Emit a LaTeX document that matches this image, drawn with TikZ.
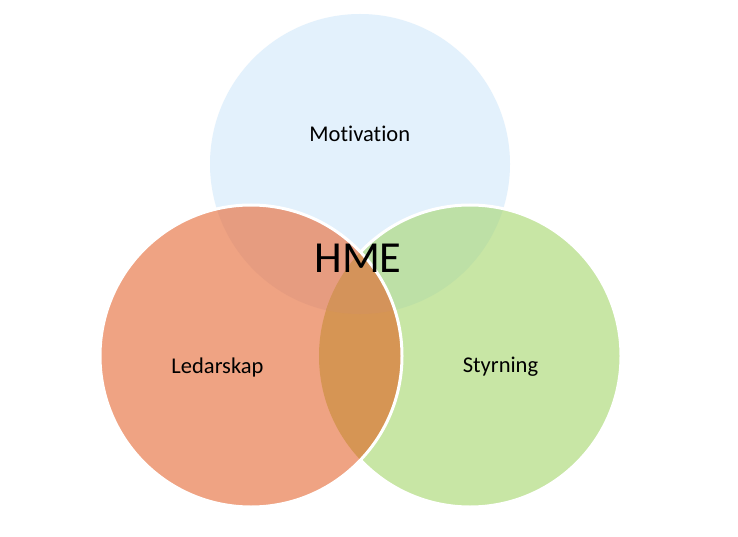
\documentclass[tikz,border=0pt]{standalone}
\usepackage{fontspec}
\setmainfont{Carlito}[Ligatures=NoCommon]
\definecolor{cblue}{RGB}{227,241,252}
\definecolor{cgreen}{RGB}{200,230,165}
\definecolor{csalmon}{RGB}{239,163,131}
\definecolor{cgb}{RGB}{189,224,166}
\definecolor{csb}{RGB}{230,156,128}
\definecolor{csg}{RGB}{214,149,84}
\definecolor{csgb}{RGB}{212,147,90}
\begin{document}
\begin{tikzpicture}[x=1bp,y=-1bp,
  border/.style={draw=white,line width=3bp},
  lbl/.style={anchor=base,inner sep=0pt,font=\fontsize{22.6}{27}\selectfont},
  big/.style={anchor=base,inner sep=0pt,font=\fontsize{44.5}{50}\selectfont}]
\useasboundingbox (0,0) rectangle (738,537);
\fill[white] (0,0) rectangle (738,537);
\def\cT{(360,164) circle[radius=150]}
\def\cL{(251,356) circle[radius=151]}
\def\cR{(470,356) circle[radius=151]}
% top circle
\fill[cblue] \cT;
% right circle
\fill[cgreen] \cR;
\begin{scope}\clip \cR; \fill[cgb] \cT; \end{scope}
\draw[border] \cR;
% left circle
\fill[csalmon] \cL;
\begin{scope}\clip \cL; \fill[csb] \cT; \fill[csg] \cR;
  \clip \cR; \fill[csgb] \cT; \end{scope}
\draw[border] \cL;
% labels
\node[lbl] (mot) at (359.8,141.7) {Motivation};
\node[lbl] (led) at (217.5,373) {Ledarskap};
\node[lbl] (sty) at (500.5,372) {Styrning};
\node[big] (hme) at (358,273) {HME};
\end{tikzpicture}
\end{document}
